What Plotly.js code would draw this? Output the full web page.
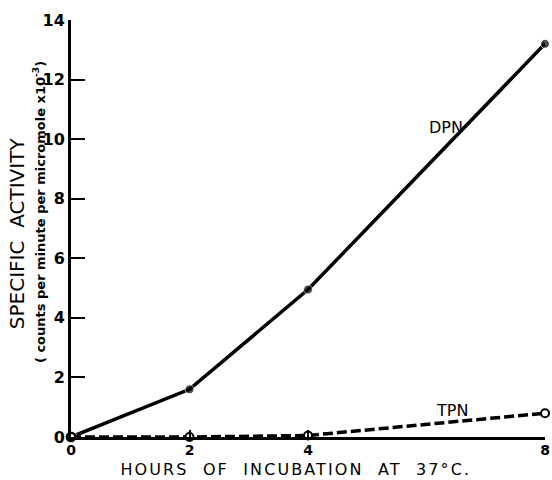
<!DOCTYPE html>
<html><head><meta charset="utf-8">
<script src="https://cdn.plot.ly/plotly-3.0.1.min.js"></script>
<style>body{margin:0;background:#fff}#c{width:552px;height:480px}</style>
</head><body><div id="c"></div>
<script>
const hours = [0, 2, 4, 8];
const dpn = [0, 1.6, 4.95, 13.2];
const tpn = [0, 0, 0.05, 0.8];
const yTicks = [0, 2, 4, 6, 8, 10, 12, 14];
const xTicks = [0, 2, 4, 8];
const yTitle1 = 'SPECIFIC  ACTIVITY';
const yTitle2 = '( counts per minute per micromole x10<sup>-3</sup>)';
const xTitle = 'HOURS  OF  INCUBATION  AT  37°C.';

const fam = 'DejaVu Sans, sans-serif';
const f = (size, weight) => ({family: fam, color: '#000', size: size, weight: weight || 'normal'});
const traces = [
  {x: hours, y: dpn, mode: 'lines+markers', name: 'DPN',
   line: {color: '#000', width: 3.5}, marker: {color: '#000', size: [12, 9, 9, 9], symbol: 'circle'}, cliponaxis: false},
  {x: hours, y: tpn, mode: 'lines+markers', name: 'TPN',
   line: {color: '#000', width: 3.5, dash: '10px,4px'},
   marker: {color: '#fff', size: 8, symbol: 'circle', line: {color: '#000', width: 2}}, cliponaxis: false}
];
const layout = {
  width: 552, height: 480,
  margin: {l: 71, r: 7, t: 20, b: 43},
  paper_bgcolor: '#fff', plot_bgcolor: '#fff',
  showlegend: false,
  font: f(14),
  xaxis: {range: [0, 8], tickvals: xTicks, ticktext: xTicks.map(String),
    showgrid: false, zeroline: false, showline: true, linecolor: '#000', linewidth: 3,
    ticks: 'inside', ticklen: 7, tickwidth: 2, tickcolor: '#000',
    ticklabelstandoff: -2,
    tickfont: f(14, 'bold')},
  yaxis: {range: [0, 14], tickvals: yTicks, ticktext: yTicks.map(String),
    showgrid: false, zeroline: false, showline: true, linecolor: '#000', linewidth: 3,
    ticks: 'inside', ticklen: 14, tickwidth: 2, tickcolor: '#000',
    tickfont: f(16, 'bold')},
  annotations: [
    {x: 0.475, y: -0.078, xref: 'paper', yref: 'paper', text: xTitle,
     xanchor: 'center', yanchor: 'middle', showarrow: false, font: f(16)},
    {x: -0.115, y: 0.49, xref: 'paper', yref: 'paper', text: yTitle1, textangle: -90,
     xanchor: 'center', yanchor: 'middle', showarrow: false, font: f(20)},
    {x: -0.067, y: 0.54, xref: 'paper', yref: 'paper', text: yTitle2, textangle: -90,
     xanchor: 'center', yanchor: 'middle', showarrow: false, font: f(13, 'bold')},
    {x: 6.33, y: 10.4, xref: 'x', yref: 'y', text: 'DPN', showarrow: false, font: f(16)},
    {x: 6.43, y: 0.9, xref: 'x', yref: 'y', text: 'TPN', showarrow: false, font: f(16)}
  ]
};
Plotly.newPlot('c', traces, layout, {displayModeBar: false, staticPlot: true}).then(gd => {
  gd.querySelectorAll('text.annotation-text').forEach(t => {
    if (t.textContent.indexOf('HOURS') === 0) t.style.letterSpacing = '2.1px';
  });
});
</script></body></html>
